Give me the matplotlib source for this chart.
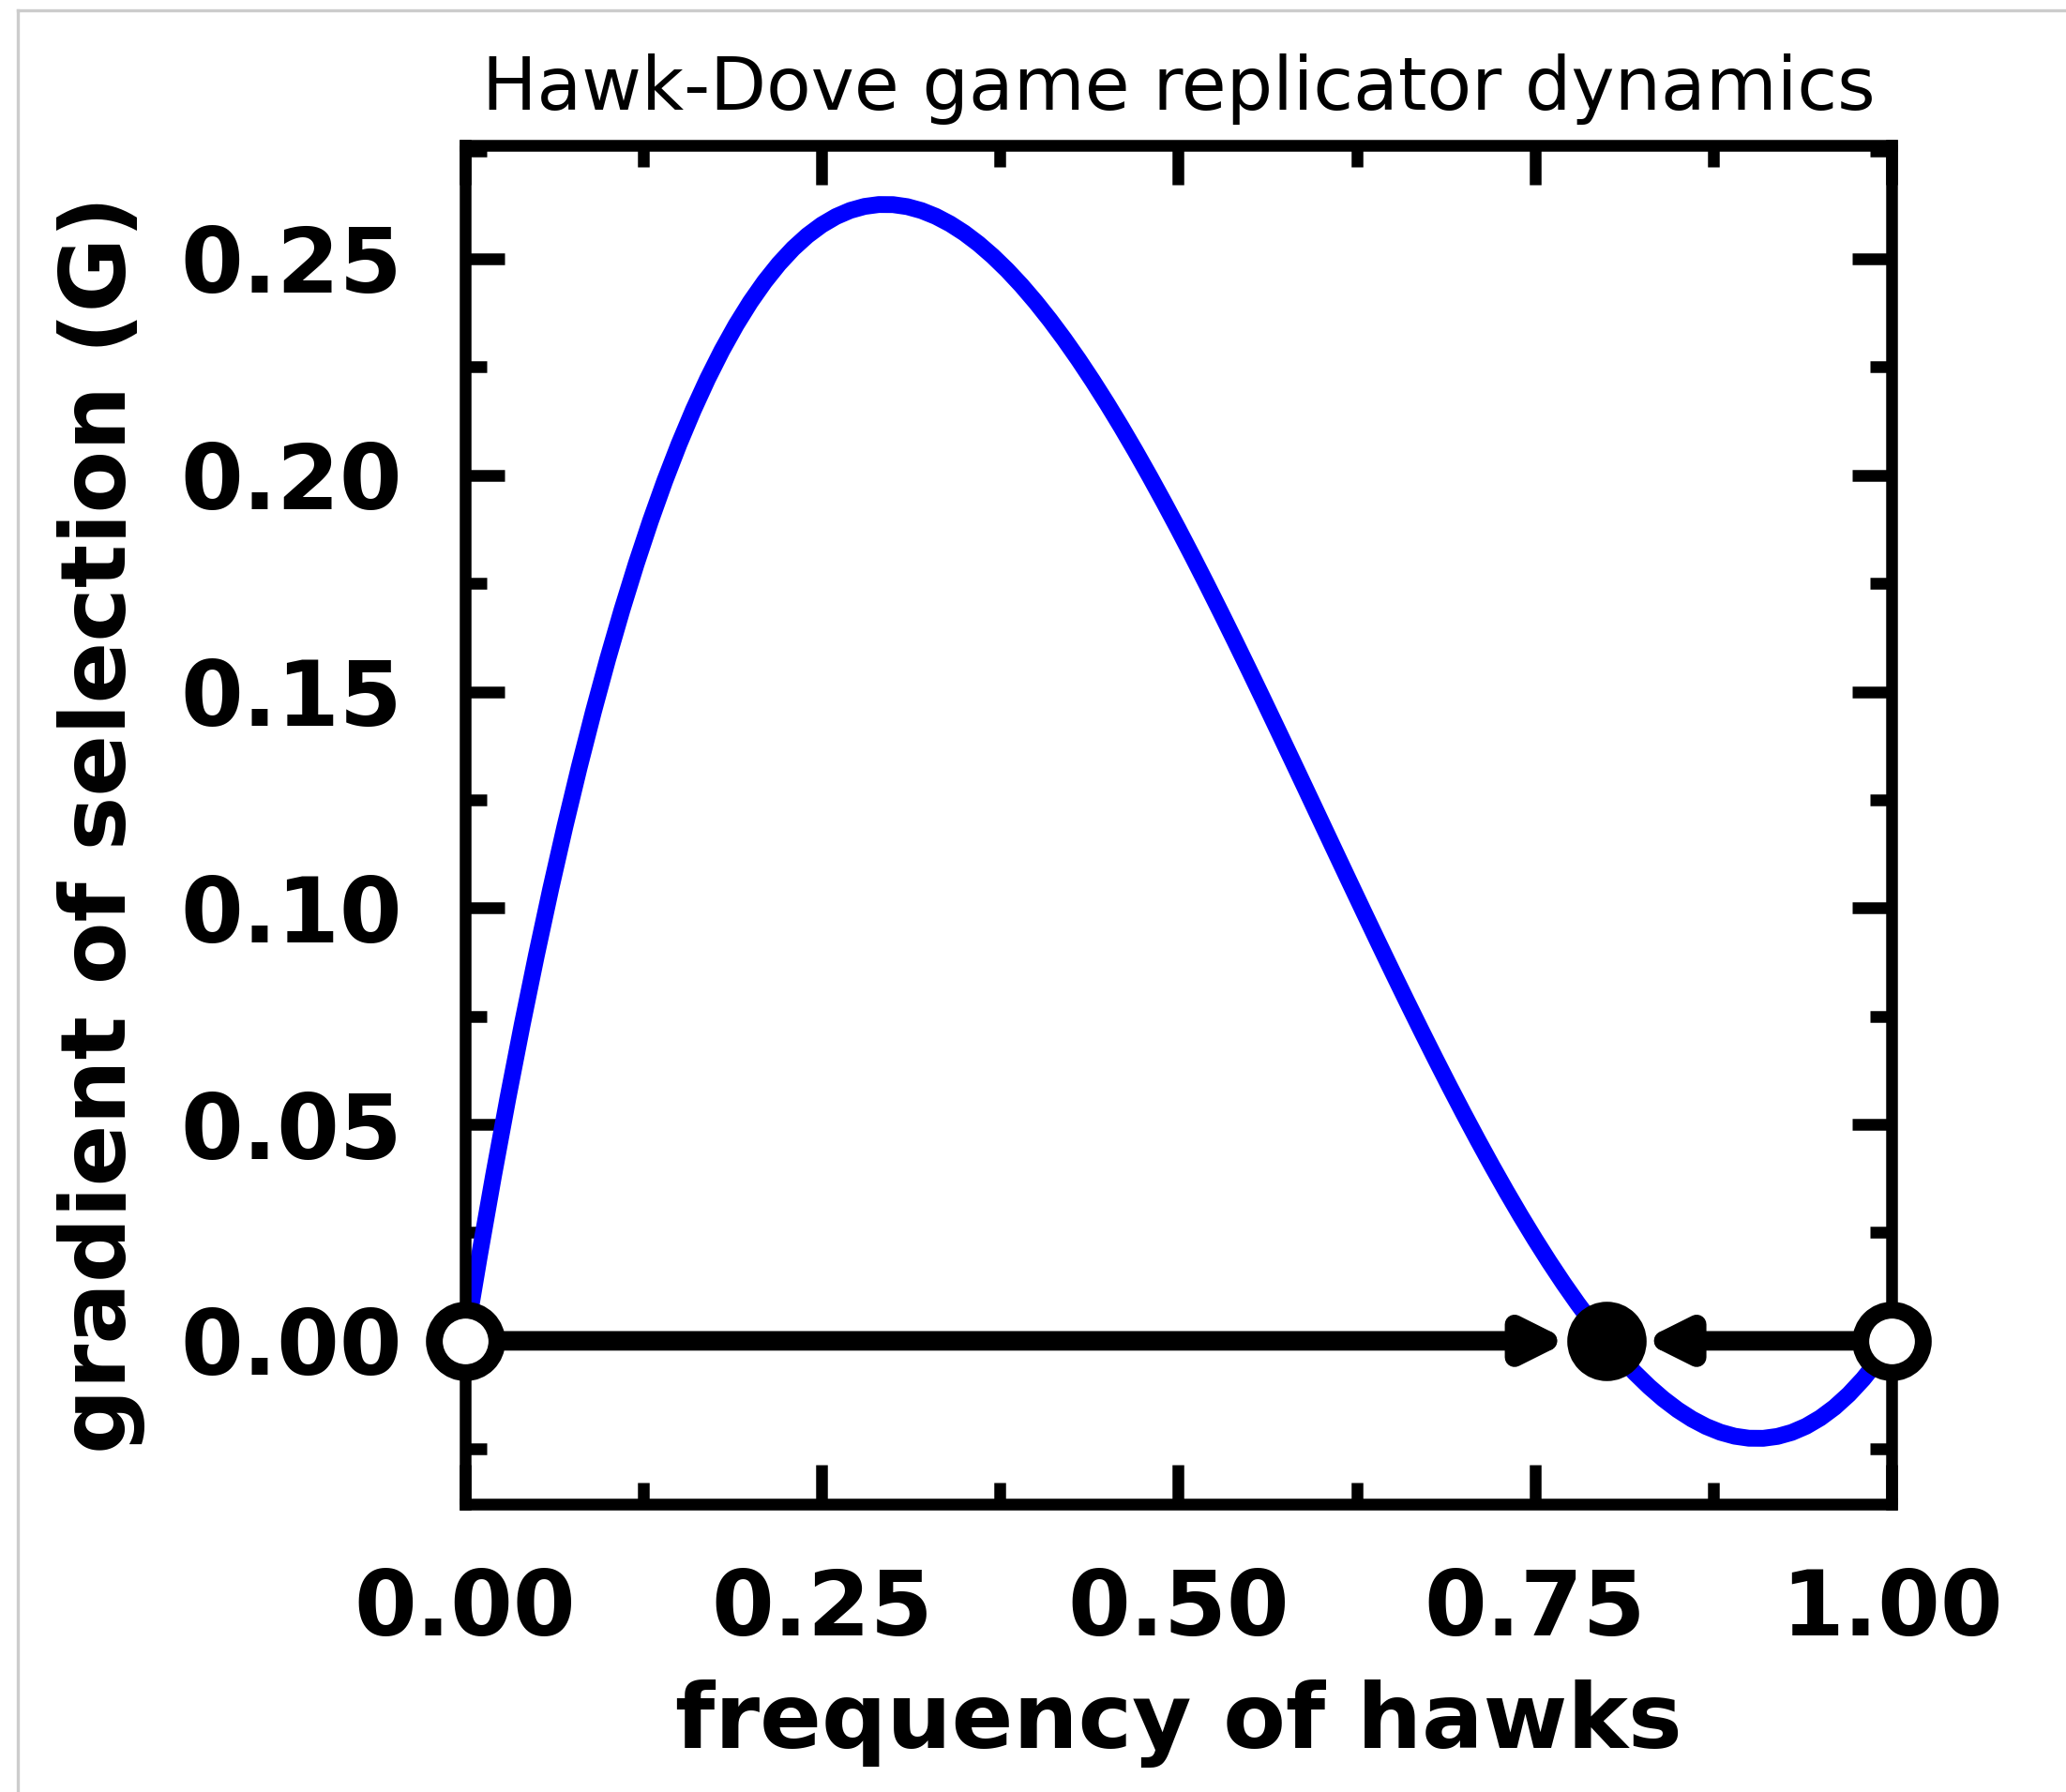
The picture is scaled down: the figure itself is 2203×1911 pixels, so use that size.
import matplotlib.pyplot as plt
from matplotlib.lines import Line2D
from matplotlib.ticker import MultipleLocator, FormatStrFormatter

# values, every 0.01 in hawk frequency
freq = [0.00, 0.01, 0.02, 0.03, 0.04, 0.05, 0.06, 0.07, 0.08, 0.09,
        0.10, 0.11, 0.12, 0.13, 0.14, 0.15, 0.16, 0.17, 0.18, 0.19,
        0.20, 0.21, 0.22, 0.23, 0.24, 0.25, 0.26, 0.27, 0.28, 0.29,
        0.30, 0.31, 0.32, 0.33, 0.34, 0.35, 0.36, 0.37, 0.38, 0.39,
        0.40, 0.41, 0.42, 0.43, 0.44, 0.45, 0.46, 0.47, 0.48, 0.49,
        0.50, 0.51, 0.52, 0.53, 0.54, 0.55, 0.56, 0.57, 0.58, 0.59,
        0.60, 0.61, 0.62, 0.63, 0.64, 0.65, 0.66, 0.67, 0.68, 0.69,
        0.70, 0.71, 0.72, 0.73, 0.74, 0.75, 0.76, 0.77, 0.78, 0.79,
        0.80, 0.81, 0.82, 0.83, 0.84, 0.85, 0.86, 0.87, 0.88, 0.89,
        0.90, 0.91, 0.92, 0.93, 0.94, 0.95, 0.96, 0.97, 0.98, 0.99, 1.00]
gradient = [0.0, 0.01955, 0.03822, 0.05602, 0.07296, 0.08906, 0.10434,
            0.11881, 0.13248, 0.14537, 0.1575, 0.16888, 0.17952, 0.18944,
            0.19866, 0.20719, 0.21504, 0.22223, 0.22878, 0.2347, 0.24,
            0.2447, 0.24882, 0.25237, 0.25536, 0.25781, 0.25974, 0.26116,
            0.26208, 0.26252, 0.2625, 0.26203, 0.26112, 0.25979, 0.25806,
            0.25594, 0.25344, 0.25058, 0.24738, 0.24385, 0.24, 0.23585,
            0.23142, 0.22672, 0.22176, 0.21656, 0.21114, 0.20551, 0.19968,
            0.19367, 0.1875, 0.18118, 0.17472, 0.16814, 0.16146, 0.15469,
            0.14784, 0.14093, 0.13398, 0.127, 0.12, 0.113, 0.10602, 0.09907,
            0.09216, 0.08531, 0.07854, 0.07186, 0.06528, 0.05882, 0.0525,
            0.04633, 0.04032, 0.03449, 0.02886, 0.02344, 0.01824, 0.01328,
            0.00858, 0.00415, 0.0, -0.00385, -0.00738, -0.01058, -0.01344,
            -0.01594, -0.01806, -0.01979, -0.02112, -0.02203, -0.0225,
            -0.02252, -0.02208, -0.02116, -0.01974, -0.01781, -0.01536,
            -0.01237, -0.00882, -0.0047, 0.0]

eq_x = [0.0, 0.8, 1.0]
eq_stable = [False, True, False]
arrows = [(0.0, 0.774), (1.0, 0.825)]

plt.rcParams['font.weight'] = 'bold'

fig = plt.figure(figsize=(2203 / 300, 1911 / 300), dpi=300)
ax = fig.add_axes([0.2251, 0.1607, 0.6905, 0.7582])

ax.plot(freq, gradient, color='blue', lw=4.3, zorder=2)

for start, end in arrows:
    ax.annotate('', xy=(end, 0), xytext=(start, 0),
                arrowprops=dict(arrowstyle='-|>', color='black', lw=5,
                                mutation_scale=21, shrinkA=0, shrinkB=0,
                                joinstyle='round'),
                zorder=3)

for x, stable in zip(eq_x, eq_stable):
    ax.plot(x, 0, 'o', ms=16, mew=4.3, mec='black',
            mfc='black' if stable else 'white', zorder=5, clip_on=False)

ax.set_xlim(0, 1)
ax.set_ylim(-0.0377, 0.2762)
ax.xaxis.set_major_locator(MultipleLocator(0.25))
ax.xaxis.set_minor_locator(MultipleLocator(0.125))
ax.yaxis.set_major_locator(MultipleLocator(0.05))
ax.yaxis.set_minor_locator(MultipleLocator(0.025))
ax.xaxis.set_major_formatter(FormatStrFormatter('%.2f'))
ax.yaxis.set_major_formatter(FormatStrFormatter('%.2f'))

ax.tick_params(which='both', direction='in', top=True, right=True,
               width=3, labelsize=23, pad=16)
ax.tick_params(which='major', length=10)
ax.tick_params(which='minor', length=5.5)
for s in ax.spines.values():
    s.set_linewidth(3)

ax.set_xlabel('frequency of hawks', fontsize=23.3, fontweight='bold',
              labelpad=6.5)
ax.set_ylabel('gradient of selection (G)', fontsize=23.3, fontweight='bold',
              labelpad=9)
ax.set_title('Hawk-Dove game replicator dynamics', fontsize=18.7,
             fontweight='normal', pad=9)

# thin frame left over from the original screenshot
fig.add_artist(Line2D([19 / 2203, 1], [1 - 11 / 1911, 1 - 11 / 1911],
                      transform=fig.transFigure, color='#cccccc', lw=0.8))
fig.add_artist(Line2D([19 / 2203, 19 / 2203], [0, 1 - 11 / 1911],
                      transform=fig.transFigure, color='#cccccc', lw=0.8))

fig.savefig('out.png', dpi=300)
